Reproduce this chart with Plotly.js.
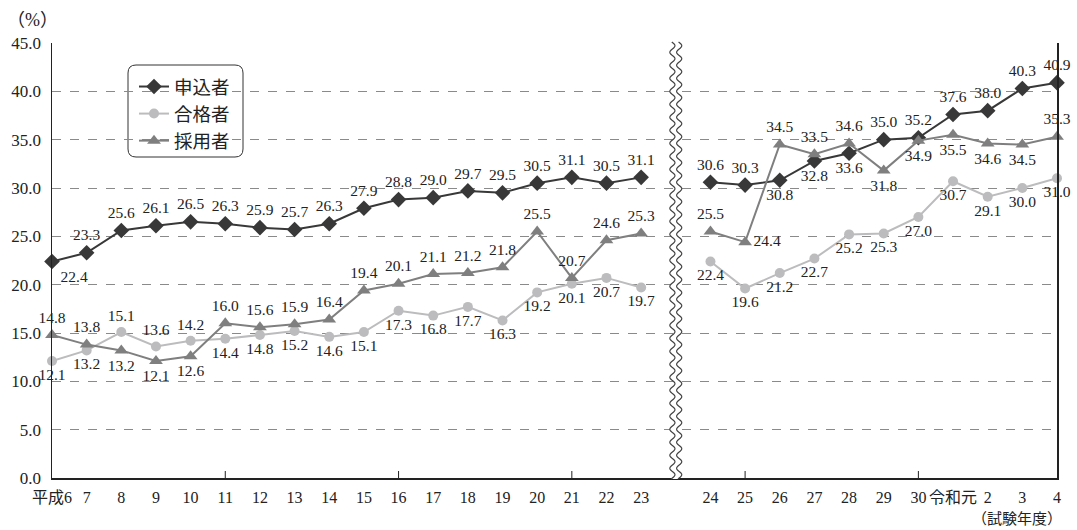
<!DOCTYPE html>
<html>
<head>
<meta charset="utf-8">
<script src="https://cdn.plot.ly/plotly-3.0.1.min.js"></script>
<style>
  html, body { margin: 0; padding: 0; background: #fff; }
  #chart { width: 1077px; height: 530px; }
</style>
</head>
<body>
<div id="chart"></div>
<script>
// Exam years (平成6–23, gap, 平成24–令和4); '' marks the axis break
const years = ['平成6','7','8','9','10','11','12','13','14','15','16','17','18','19','20','21','22','23',
  '', '24','25','26','27','28','29','30','令和元','2','3','4'];

// 申込者 (applicants), %
const applicants = [22.4, 23.3, 25.6, 26.1, 26.5, 26.3, 25.9, 25.7, 26.3, 27.9, 28.8, 29.0, 29.7, 29.5, 30.5, 31.1, 30.5, 31.1,
  null, 30.6, 30.3, 30.8, 32.8, 33.6, 35.0, 35.2, 37.6, 38.0, 40.3, 40.9];
// 合格者 (successful candidates), %
const passed = [12.1, 13.2, 15.1, 13.6, 14.2, 14.4, 14.8, 15.2, 14.6, 15.1, 17.3, 16.8, 17.7, 16.3, 19.2, 20.1, 20.7, 19.7,
  null, 22.4, 19.6, 21.2, 22.7, 25.2, 25.3, 27.0, 30.7, 29.1, 30.0, 31.0];
// 採用者 (hired), %
const hired = [14.8, 13.8, 13.2, 12.1, 12.6, 16.0, 15.6, 15.9, 16.4, 19.4, 20.1, 21.1, 21.2, 21.8, 25.5, 20.7, 24.6, 25.3,
  null, 25.5, 24.4, 34.5, 33.5, 34.6, 31.8, 34.9, 35.5, 34.6, 34.5, 35.3];

const yTicks = [0, 5, 10, 15, 20, 25, 30, 35, 40, 45];
// small inside tick marks on the year axis (平成11, 16, 21, 25, 30)
const markedYears = ['11', '16', '21', '25', '30'];

const xs = years.map((_, i) => i);
const fmt = v => (v === null ? '' : v.toFixed(1));

// label placement per point
const T = 'top center', B = 'bottom center', R = 'middle right', BR = 'bottom right';
const posApplicants = [BR, T, T, T, T, T, T, T, T, T, T, T, T, T, T, T, T, T,
  T, T, T, B, B, B, T, T, T, T, T, T];
const posPassed = [B, B, T, T, T, B, B, B, B, B, B, B, B, B, B, B, B, B,
  B, B, B, B, B, B, B, B, B, B, B, B];
const posHired = [T, T, B, B, B, T, T, T, T, T, T, T, T, T, T, T, T, T,
  T, T, R, T, T, T, B, B, B, B, B, T];

const NUM_FONT = '"Liberation Serif", "Noto Sans CJK JP", serif';
const CJK_FONT = '"Noto Sans CJK JP", sans-serif';

function series(name, vals, pos, color, symbol, size) {
  return {
    type: 'scatter', mode: 'lines+markers+text', name: name,
    x: xs, y: vals, text: vals.map(fmt), textposition: pos,
    textfont: { family: NUM_FONT, size: 15.5, color: '#222' },
    line: { color: color, width: 2 },
    marker: { color: color, symbol: symbol, size: size },
    connectgaps: false, cliponaxis: false, hoverinfo: 'x+y'
  };
}

const traces = [
  series('申込者', applicants, posApplicants, '#383838', 'diamond', 12),
  series('合格者', passed, posPassed, '#bcbcbe', 'circle', 10),
  series('採用者', hired, posHired, '#7f7f7f', 'triangle-up', 12)
];

// plot area in pixels
const PW = 1005, PH = 435;
const breakX = years.indexOf('') / (years.length - 1);

function waveLine(offPx, reverse) {
  const pts = [];
  const amp = 2.6, period = 13;
  for (let py = -1; py <= PH + 1; py += 1) {
    const px = offPx + amp * Math.sin(2 * Math.PI * py / period);
    pts.push([breakX + px / PW, py / PH]);
  }
  return reverse ? pts.reverse() : pts;
}
function pathFrom(pts, start) {
  return pts.map((p, i) => (i === 0 && start ? 'M' : 'L') + p[0].toFixed(5) + ',' + p[1].toFixed(5)).join(' ');
}
const leftW = waveLine(-3.4, false), rightW = waveLine(3.4, true);
const gapFill = pathFrom(leftW, true) + ' ' + pathFrom(rightW, false) + ' Z';

// legend box with rounded corners (paper units)
function roundRect(x0, y0, x1, y1, r) {
  const rx = r / PW, ry = r / PH;
  return `M${x0 + rx},${y1} L${x1 - rx},${y1} Q${x1},${y1} ${x1},${y1 - ry} L${x1},${y0 + ry} Q${x1},${y0} ${x1 - rx},${y0} ` +
    `L${x0 + rx},${y0} Q${x0},${y0} ${x0},${y0 + ry} L${x0},${y1 - ry} Q${x0},${y1} ${x0 + rx},${y1} Z`;
}
const lgX0 = (128 - 52) / PW, lgX1 = (243 - 52) / PW;
const lgY1 = 1 - (65 - 43) / PH, lgY0 = 1 - (157 - 43) / PH;

const tickShapes = markedYears.map(lbl => ({
  type: 'line', xref: 'x', yref: 'paper', x0: years.indexOf(lbl), x1: years.indexOf(lbl),
  y0: 0, y1: 7 / PH, line: { color: '#222', width: 1 }, layer: 'above'
}));

const layout = {
  width: 1077, height: 530,
  margin: { l: 52, r: 20, t: 43, b: 52 },
  paper_bgcolor: '#fff', plot_bgcolor: '#fff',
  showlegend: true,
  legend: {
    x: lgX0 + 6 / PW, y: lgY1 - 3 / PH, xanchor: 'left', yanchor: 'top',
    bgcolor: 'rgba(0,0,0,0)', borderwidth: 0,
    font: { family: CJK_FONT, size: 18.5, color: '#222' },
    itemwidth: 30, tracegroupgap: 0
  },
  xaxis: {
    range: [0, years.length - 1], tickvals: xs, ticktext: years, tickangle: 0,
    ticks: '', showgrid: false, zeroline: false, ticklabelstandoff: 4,
    showline: true, linecolor: '#222', linewidth: 1.5,
    tickfont: { family: NUM_FONT, size: 16, color: '#222' }
  },
  yaxis: {
    range: [0, 45], tickvals: yTicks, ticktext: yTicks.map(v => v.toFixed(1)),
    showgrid: true, gridcolor: '#8a8a8a', griddash: 'dash', gridwidth: 1,
    zeroline: false, showline: true, mirror: true, linecolor: '#222', linewidth: 1.5,
    ticks: '', ticklabelstandoff: 6,
    tickfont: { family: NUM_FONT, size: 17, color: '#222' }
  },
  shapes: [
    { type: 'path', xref: 'paper', yref: 'paper', path: gapFill, fillcolor: '#fff', line: { width: 0 }, layer: 'above' },
    { type: 'path', xref: 'paper', yref: 'paper', path: pathFrom(leftW, true), line: { color: '#444', width: 1.2 }, layer: 'above' },
    { type: 'path', xref: 'paper', yref: 'paper', path: pathFrom(rightW, true), line: { color: '#444', width: 1.2 }, layer: 'above' },
    { type: 'path', xref: 'paper', yref: 'paper', path: roundRect(lgX0, lgY0, lgX1, lgY1, 8),
      fillcolor: '#fff', line: { color: '#333', width: 1 }, layer: 'below' }
  ].concat(tickShapes),
  annotations: [
    { xref: 'paper', yref: 'paper', x: (5 - 52) / PW, y: 1 + (43 - 20) / PH, xanchor: 'left', yanchor: 'middle',
      text: '（%）', showarrow: false, font: { family: NUM_FONT, size: 18, color: '#222' } },
    { xref: 'paper', yref: 'paper', x: (1064 - 52) / PW, y: -(530 - 478) / PH, xanchor: 'right', yanchor: 'bottom',
      text: '（試験年度）', showarrow: false, font: { family: CJK_FONT, size: 15, color: '#222' } }
  ]
};

Plotly.newPlot('chart', traces, layout, { displayModeBar: false, staticPlot: true });
</script>
</body>
</html>
